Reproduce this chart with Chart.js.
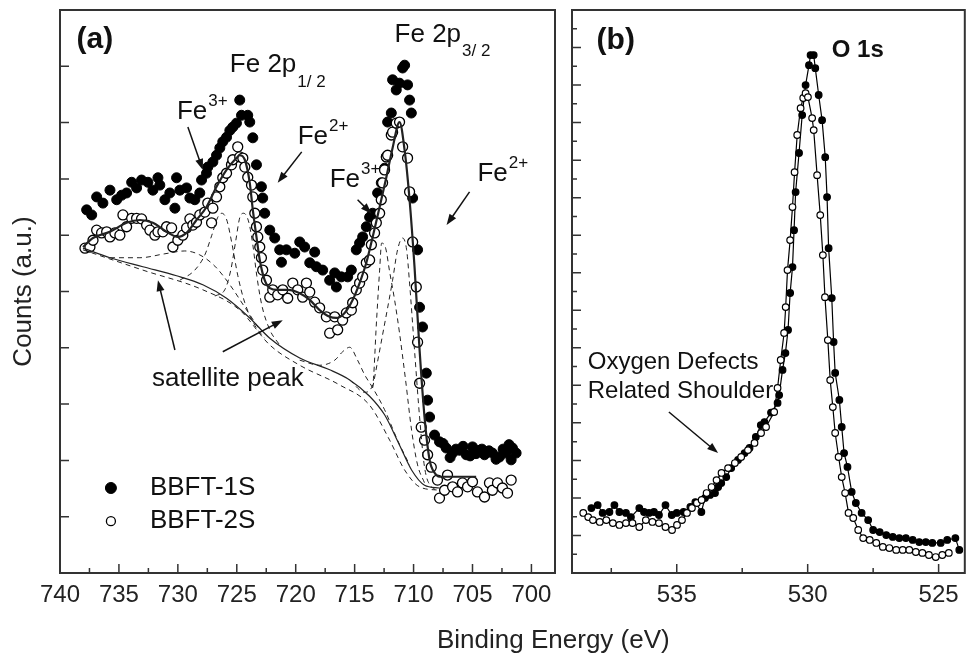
<!DOCTYPE html>
<html>
<head>
<meta charset="utf-8">
<title>XPS Fe 2p / O 1s</title>
<script src="https://cdn.jsdelivr.net/npm/chart.js@4.4.1/dist/chart.umd.min.js"></script>
<style>
  body { margin: 0; background: #fff; width: 970px; height: 655px; position: relative; overflow: hidden;
         font-family: "Liberation Sans", Arial, Helvetica, sans-serif; }
  #ca { position: absolute; left: 0; top: 0; }
  #cb { position: absolute; left: 563px; top: 0; }
  #xtitle { position: absolute; left: 437px; top: 626px; font-size: 26px; line-height: 26px; color: #222; white-space: nowrap; }
</style>
</head>
<body>
<canvas id="ca" width="563" height="655"></canvas>
<canvas id="cb" width="407" height="655"></canvas>
<div id="xtitle">Binding Energy (eV)</div>
<script>
const FONT = '"Liberation Sans", Arial, Helvetica, sans-serif';

// ---- panel (a): Fe 2p ----
// BBFT-1S (filled)
const fe1E = [737.74, 737.31, 736.89, 736.36, 735.76, 735.19, 734.77, 734.35, 733.92, 733.50,
  733.08, 732.54, 732.12, 731.69, 731.53, 731.10, 730.68, 730.25, 730.11, 729.83,
  729.26, 728.98, 728.56, 728.14, 727.99, 727.57, 727.46, 727.03, 726.72, 726.44,
  726.19, 725.87, 725.59, 725.34, 725.03, 724.60, 724.75, 724.07, 723.90, 723.64,
  723.33, 722.91, 722.80, 722.63, 722.20, 721.78, 721.36, 721.21, 720.79, 720.08,
  719.66, 719.24, 718.81, 718.39, 718.25, 717.71, 717.12, 716.69, 716.55, 716.13,
  715.59, 715.28, 714.86, 714.58, 714.32, 714.01, 713.73, 713.47, 713.05, 712.74,
  712.46, 712.31, 712.20, 711.89, 711.78, 711.47, 711.19, 710.93, 710.76, 710.51,
  710.34, 710.19, 710.08, 709.66, 709.49, 709.24, 708.92, 708.81, 708.64, 708.22,
  707.80, 707.50, 707.23, 706.90, 706.69, 706.40, 706.10, 705.80, 705.53, 705.20,
  705.00, 704.70, 704.41, 704.20, 703.98, 703.60, 703.31, 703.00, 702.71, 702.40,
  702.14, 701.90, 701.72, 701.61, 701.30];
const fe1I = [6.45, 6.36, 6.68, 6.57, 6.80, 6.63, 6.71, 6.75, 6.94, 6.84,
  6.98, 6.94, 6.80, 7.02, 6.89, 6.63, 6.75, 6.48, 7.02, 6.80,
  6.84, 6.66, 6.63, 6.75, 6.98, 7.10, 7.21, 7.30, 7.42, 7.55,
  7.66, 7.74, 7.86, 7.92, 7.99, 8.13, 8.40, 8.13, 8.01, 7.73,
  7.25, 6.86, 6.66, 6.39, 6.09, 5.95, 5.74, 5.52, 5.74, 5.68,
  5.88, 5.79, 5.51, 5.70, 5.44, 5.38, 5.20, 5.33, 5.08, 5.26,
  5.26, 5.38, 5.74, 5.86, 5.97, 6.15, 6.32, 6.39, 6.75, 6.93,
  7.19, 7.39, 8.01, 8.17, 8.76, 8.58, 8.70, 8.97, 9.02, 8.67,
  8.40, 8.17, 6.66, 5.74, 4.72, 4.37, 3.55, 3.07, 2.77, 2.45,
  2.33, 2.30, 2.22, 2.05, 2.13, 2.20, 2.18, 2.25, 2.10, 2.08,
  2.24, 2.12, 2.18, 2.20, 2.10, 2.17, 2.13, 2.02, 2.06, 2.20,
  2.13, 2.28, 2.01, 2.22, 2.13];
// BBFT-2S (open)
const fe2E = [737.88, 737.46, 737.20, 736.89, 736.47, 736.04, 735.76, 735.34, 734.92, 734.66,
  734.35, 733.92, 733.50, 733.08, 732.65, 732.37, 731.95, 731.69, 731.27, 730.96,
  730.53, 730.42, 730.00, 729.58, 729.26, 728.98, 728.73, 728.42, 728.14, 727.71,
  727.46, 727.14, 727.03, 726.72, 726.44, 726.19, 725.87, 725.45, 725.34, 724.92,
  724.75, 724.49, 724.32, 724.07, 723.75, 723.64, 723.47, 723.33, 723.22, 723.05,
  722.91, 722.80, 722.48, 722.20, 721.95, 721.53, 721.10, 720.68, 720.25, 719.83,
  719.41, 719.09, 718.81, 718.39, 717.97, 717.40, 717.12, 716.69, 716.44, 716.02,
  715.70, 715.28, 715.17, 714.86, 714.58, 714.32, 714.01, 713.73, 713.58, 713.31,
  713.16, 712.88, 712.74, 712.63, 712.46, 712.31, 712.20, 711.89, 711.78, 711.47,
  711.19, 710.93, 710.51, 710.34, 710.08, 709.77, 709.66, 709.49, 709.35, 709.07,
  708.81, 708.50, 707.97, 707.80, 707.37, 707.12, 706.69, 706.27, 705.85, 705.42,
  705.00, 704.58, 703.98, 703.56, 703.31, 702.88, 702.46, 702.03, 701.72];
const fe2I = [5.77, 5.79, 5.91, 6.09, 6.04, 6.06, 5.97, 6.04, 6.00, 6.36,
  6.15, 6.30, 6.30, 6.29, 6.18, 6.09, 6.00, 6.06, 6.06, 6.15,
  6.13, 5.79, 5.91, 6.00, 6.13, 6.29, 6.18, 6.23, 6.36, 6.41,
  6.57, 6.22, 6.48, 6.68, 6.86, 7.02, 7.10, 7.25, 7.34, 7.57,
  7.39, 7.37, 7.21, 7.03, 6.89, 6.68, 6.39, 6.15, 5.97, 5.79,
  5.60, 5.38, 5.20, 4.90, 5.03, 4.94, 5.03, 4.88, 5.15, 5.03,
  4.90, 5.15, 4.99, 4.81, 4.71, 4.55, 4.26, 4.55, 4.32, 4.49,
  4.62, 4.67, 4.80, 5.03, 5.15, 5.26, 5.51, 5.56, 5.83, 6.04,
  6.22, 6.39, 6.63, 6.93, 7.16, 7.39, 7.42, 7.78, 7.83, 7.99,
  8.01, 7.57, 7.37, 6.77, 5.88, 5.08, 4.10, 3.37, 2.59, 2.36,
  2.10, 1.88, 1.65, 1.33, 1.47, 1.74, 1.53, 1.44, 1.60, 1.53,
  1.62, 1.44, 1.35, 1.60, 1.47, 1.60, 1.51, 1.42, 1.65];
// fitted envelope
const fitE = [738.05, 737.20, 735.76, 734.35, 733.22, 732.12, 730.96, 730.00, 729.26, 728.42,
  727.57, 726.72, 725.87, 725.03, 724.75, 724.32, 723.90, 723.64, 723.33, 723.05,
  722.63, 722.20, 721.53, 720.68, 719.66, 718.81, 717.97, 717.12, 716.55, 715.85,
  715.17, 714.58, 714.01, 713.47, 712.88, 712.31, 711.78, 711.19, 710.76, 710.34,
  709.92, 709.49, 709.07, 708.64, 708.22, 707.80, 704.69];
const fitI = [5.79, 5.95, 6.06, 6.22, 6.27, 6.22, 6.06, 5.97, 6.04, 6.27,
  6.50, 6.86, 7.16, 7.37, 7.42, 7.34, 6.93, 6.45, 5.97, 5.56,
  5.20, 5.06, 5.03, 5.03, 4.97, 4.85, 4.67, 4.55, 4.53, 4.62,
  4.85, 5.15, 5.51, 5.97, 6.50, 7.03, 7.55, 8.01, 7.51, 6.63,
  5.44, 3.96, 2.77, 2.01, 1.78, 1.71, 1.71];
// Shirley background (solid) and a dashed copy
const bgE = [738.05, 735.76, 732.97, 730.11, 727.88, 725.87, 723.90, 722.20, 719.66, 717.12,
  715.42, 713.73, 712.46, 711.19, 710.17, 709.07, 707.80];
const bgI = [5.77, 5.60, 5.44, 5.28, 5.12, 4.88, 4.53, 4.17, 3.82, 3.61,
  3.43, 3.14, 2.81, 2.27, 1.83, 1.56, 1.51];
const bg2E = [738.05, 732.97, 727.88, 724.75, 722.20, 719.66, 716.27, 713.73, 712.03, 710.76, 709.49, 707.80];
const bg2I = [5.74, 5.38, 5.03, 4.67, 4.05, 3.69, 3.34, 2.98, 2.36, 1.83, 1.53, 1.47];
// fitted components (dashed)
const sat1E = [735.76, 733.22, 731.10, 729.41, 728.14, 726.86, 725.59, 724.32, 723.05];
const sat1I = [5.60, 5.60, 5.67, 5.72, 5.65, 5.45, 5.12, 4.72, 4.32];
const f3aE = [729.83, 728.56, 727.71, 727.12, 726.61, 726.27, 725.85, 725.42, 724.92, 724.32, 723.47, 722.63];
const f3aI = [5.20, 5.38, 5.65, 6.00, 6.32, 6.39, 6.27, 5.86, 5.29, 4.80, 4.40, 4.17];
const f2aE = [726.86, 726.02, 725.51, 725.08, 724.75, 724.41, 723.98, 723.64, 723.31, 722.88, 722.20, 721.36];
const f2aI = [4.92, 5.03, 5.38, 5.91, 6.31, 6.39, 6.23, 5.83, 5.29, 4.76, 4.32, 4.05];
const sat2E = [719.66, 717.97, 716.69, 716.02, 715.42, 714.75, 714.15, 713.47, 712.46, 711.36, 710.34];
const sat2I = [3.78, 3.69, 3.78, 3.93, 4.01, 3.78, 3.52, 3.29, 2.90, 2.36, 1.92];
const f3bE = [715.42, 714.15, 713.47, 713.14, 712.88, 712.71, 712.37, 712.03, 711.61, 711.19, 710.68, 710.17, 709.66, 709.07];
const f3bI = [3.43, 3.21, 3.34, 4.49, 5.38, 5.86, 5.77, 5.35, 4.85, 4.26, 3.43, 2.54, 1.92, 1.60];
const f2bE = [713.47, 712.63, 711.78, 711.36, 710.93, 710.59, 710.34, 709.92, 709.49, 709.07, 708.47, 707.80];
const f2bI = [3.29, 4.23, 5.20, 5.74, 5.95, 5.74, 5.15, 3.96, 2.77, 1.88, 1.53, 1.47];

const aTicks = [740, 735, 730, 725, 720, 715, 710, 705, 700];
const aMinor = [737.5, 732.5, 727.5, 722.5, 717.5, 712.5, 707.5, 702.5];
const aYTicks = [1, 2, 3, 4, 5, 6, 7, 8, 9];

// ---- panel (b): O 1s ----
const o1E = [538.26, 538.02, 537.83, 537.57, 537.38, 537.19, 536.94, 536.75, 536.43, 536.25,
  536.06, 535.87, 535.68, 535.43, 535.19, 535.00, 534.74, 534.48, 534.29, 534.06,
  533.92, 533.73, 533.54, 533.42, 533.30, 533.11, 532.92, 532.66, 532.41, 532.22,
  531.98, 531.79, 531.65, 531.40, 531.15, 531.09, 530.96, 530.85, 530.75, 530.67,
  530.58, 530.52, 530.46, 530.33, 530.21, 530.08, 529.95, 529.89, 529.77, 529.71,
  529.58, 529.45, 529.33, 529.26, 529.20, 529.08, 529.01, 528.95, 528.79, 528.70,
  528.61, 528.48, 528.32, 528.16, 527.94, 527.69, 527.50, 527.25, 527.00, 526.75,
  526.50, 526.25, 525.99, 525.74, 525.49, 525.24, 524.92, 524.67, 524.36, 524.21];
const o1I = [3.46, 3.62, 3.20, 3.25, 3.62, 3.25, 3.20, 2.98, 3.46, 3.25,
  3.20, 3.25, 3.09, 3.62, 3.09, 3.20, 3.25, 3.52, 3.78, 3.25,
  4.00, 4.16, 4.26, 4.58, 4.79, 5.11, 5.59, 6.02, 6.39, 6.66,
  7.25, 7.88, 8.04, 8.55, 9.06, 9.48, 10.82, 11.72, 12.95, 14.92,
  16.30, 18.27, 20.30, 22.38, 24.40, 26.00, 27.06, 27.60, 27.60, 26.90,
  25.47, 24.13, 22.16, 20.03, 17.31, 14.65, 12.31, 10.66, 9.22, 7.78,
  6.39, 5.65, 4.32, 3.73, 3.20, 2.82, 2.29, 2.18, 2.02, 1.92,
  1.86, 1.86, 1.76, 1.65, 1.65, 1.60, 1.60, 1.76, 1.86, 1.23];
const o2E = [538.57, 538.38, 538.20, 537.94, 537.69, 537.44, 537.19, 536.94, 536.69, 536.43,
  536.18, 535.93, 535.68, 535.43, 535.18, 534.99, 534.80, 534.61, 534.42, 534.23,
  534.05, 533.86, 533.67, 533.48, 533.29, 533.04, 532.78, 532.54, 532.28, 532.03,
  531.78, 531.59, 531.28, 531.15, 531.03, 530.90, 530.84, 530.77, 530.67, 530.58,
  530.50, 530.40, 530.27, 530.17, 530.08, 529.99, 529.83, 529.77, 529.64, 529.52,
  529.42, 529.34, 529.23, 529.14, 529.04, 528.95, 528.82, 528.70, 528.57, 528.44,
  528.26, 528.07, 527.88, 527.63, 527.38, 527.13, 526.88, 526.62, 526.37, 526.12,
  525.87, 525.62, 525.37, 525.11, 524.86, 524.61];
const o2I = [3.20, 2.98, 2.82, 2.72, 2.82, 2.66, 2.56, 2.66, 2.66, 2.45,
  2.82, 2.72, 2.66, 2.45, 2.29, 2.56, 2.82, 3.20, 3.46, 3.73,
  3.89, 4.26, 4.58, 4.95, 5.33, 5.59, 5.86, 6.18, 6.55, 6.93,
  7.46, 7.78, 8.58, 9.86, 11.35, 12.79, 14.17, 16.14, 17.74, 19.50,
  21.36, 23.34, 24.77, 25.31, 25.57, 25.36, 24.24, 23.60, 21.20, 19.07,
  16.94, 14.70, 12.41, 10.28, 8.84, 7.46, 6.18, 5.11, 4.26, 3.20,
  2.93, 2.29, 1.86, 1.76, 1.60, 1.39, 1.33, 1.23, 1.23, 1.23,
  1.12, 1.07, 0.96, 0.85, 0.96, 1.07];

const bTicks = [535, 530, 525];
const bMinor = [537.5, 532.5, 527.5];
const bYTicks = [1, 2, 3, 4, 5, 6, 7, 8, 9, 10, 11, 12, 13, 14, 15, 16, 17, 18, 19, 20,
  21, 22, 23, 24, 25, 26, 27, 28, 29];

function pts(xs, ys) {
  return xs.map((x, i) => ({x: x, y: ys[i]}));
}

// frame around the plot area plus inward tick marks
const frameTicks = {
  id: 'frameTicks',
  afterDatasetsDraw(chart, args, o) {
    const ctx = chart.ctx, a = chart.chartArea;
    const sx = chart.scales.x, sy = chart.scales.y;
    ctx.save();
    ctx.strokeStyle = '#333';
    ctx.lineWidth = 1.5;
    ctx.beginPath();
    o.xMajor.forEach(v => { const p = sx.getPixelForValue(v); ctx.moveTo(p, a.bottom); ctx.lineTo(p, a.bottom - 9); });
    o.xMinor.forEach(v => { const p = sx.getPixelForValue(v); ctx.moveTo(p, a.bottom); ctx.lineTo(p, a.bottom - 5); });
    o.yTicks.forEach(v => {
      const p = sy.getPixelForValue(v);
      const len = (o.yEven && v % 2) ? 5 : 9;
      ctx.moveTo(a.left, p); ctx.lineTo(a.left + len, p);
    });
    ctx.stroke();
    ctx.lineWidth = 2;
    ctx.strokeRect(a.left, a.top, a.right - a.left, a.bottom - a.top);
    ctx.restore();
  }
};

// text labels, arrows and the hand placed legend
const notes = {
  id: 'notes',
  afterDraw(chart, args, o) {
    const ctx = chart.ctx, sx = chart.scales.x, sy = chart.scales.y;
    ctx.save();
    ctx.fillStyle = '#111';
    ctx.strokeStyle = '#111';
    ctx.textBaseline = 'middle';
    ctx.textAlign = 'left';
    (o.labels || []).forEach(l => {
      const px = sx.getPixelForValue(l.x), py = sy.getPixelForValue(l.y);
      ctx.font = (l.bold ? 'bold ' : '') + l.size + 'px ' + FONT;
      ctx.fillText(l.text, px, py);
      if (l.sub || l.sup) {
        const w = ctx.measureText(l.text).width;
        ctx.font = '17px ' + FONT;
        ctx.fillText(l.sub || l.sup, px + w + 1, py + (l.sub ? 17 : -11));
      }
    });
    (o.arrows || []).forEach(ar => {
      const x0 = sx.getPixelForValue(ar[0]), y0 = sy.getPixelForValue(ar[1]);
      const x1 = sx.getPixelForValue(ar[2]), y1 = sy.getPixelForValue(ar[3]);
      const c = Math.cos(Math.atan2(y1 - y0, x1 - x0)), s = Math.sin(Math.atan2(y1 - y0, x1 - x0));
      ctx.lineWidth = 1.5;
      ctx.beginPath();
      ctx.moveTo(x0, y0);
      ctx.lineTo(x1 - 8 * c, y1 - 8 * s);
      ctx.stroke();
      ctx.beginPath();
      ctx.moveTo(x1, y1);
      ctx.lineTo(x1 - 11 * c + 4 * s, y1 - 11 * s - 4 * c);
      ctx.lineTo(x1 - 11 * c - 4 * s, y1 - 11 * s + 4 * c);
      ctx.closePath();
      ctx.fill();
    });
    (o.legend || []).forEach(l => {
      const ds = chart.data.datasets[l.ds];
      const px = sx.getPixelForValue(l.x), py = sy.getPixelForValue(l.y);
      ctx.beginPath();
      ctx.arc(px, py, l.r, 0, Math.PI * 2);
      ctx.fillStyle = ds.backgroundColor;
      ctx.fill();
      ctx.lineWidth = ds.borderWidth;
      ctx.strokeStyle = ds.borderColor;
      ctx.stroke();
      ctx.fillStyle = '#111';
      ctx.font = '26px ' + FONT;
      ctx.fillText(ds.label, sx.getPixelForValue(l.tx), py);
    });
    ctx.restore();
  }
};

const aLabels = [
  {x: 738.6, y: 9.47, text: '(a)', size: 30, bold: true},
  {x: 725.59, y: 9.02, text: 'Fe 2p', size: 26, sub: '1/ 2'},
  {x: 711.61, y: 9.56, text: 'Fe 2p', size: 26, sub: '3/ 2'},
  {x: 730.08, y: 8.19, text: 'Fe', size: 26, sup: '3+'},
  {x: 719.83, y: 7.74, text: 'Fe', size: 26, sup: '2+'},
  {x: 717.12, y: 6.98, text: 'Fe', size: 26, sup: '3+'},
  {x: 704.58, y: 7.09, text: 'Fe', size: 26, sup: '2+'},
  {x: 732.20, y: 3.45, text: 'satellite peak', size: 26}
];
const aArrows = [
  [729.15, 7.92, 727.88, 7.16],
  [719.49, 7.48, 721.53, 6.93],
  [714.75, 6.63, 713.56, 6.38],
  [705.25, 6.77, 707.20, 6.18],
  [730.25, 3.96, 731.69, 5.20],
  [726.19, 3.93, 721.10, 4.49]
];
const bLabels = [
  {x: 538.06, y: 28.34, text: '(b)', size: 30, bold: true},
  {x: 529.08, y: 27.86, text: 'O 1s', size: 24, bold: true},
  {x: 538.40, y: 11.24, text: 'Oxygen Defects', size: 24},
  {x: 538.40, y: 9.70, text: 'Related Shoulder', size: 24}
];
const bArrows = [[535.30, 8.58, 533.42, 6.39]];

function lineSet(label, xs, ys, width, dash, order) {
  return {label: label, data: pts(xs, ys), showLine: true, pointRadius: 0, borderColor: '#222',
    borderWidth: width, borderDash: dash, cubicInterpolationMode: 'monotone', fill: false, order: order};
}

function xScale(min, max, ticks) {
  return {
    type: 'linear', reverse: true, min: min, max: max,
    afterBuildTicks: s => { s.ticks = ticks.map(v => ({value: v})); },
    afterFit: s => { s.height = 82; },
    ticks: {font: {family: FONT, size: 24}, color: '#222', padding: 8, maxRotation: 0, autoSkip: false},
    grid: {display: false, drawTicks: false},
    border: {display: false}
  };
}

new Chart(document.getElementById('ca'), {
  type: 'scatter',
  data: {
    datasets: [
      {label: 'BBFT-1S', data: pts(fe1E, fe1I), pointRadius: 5, backgroundColor: '#000',
        borderColor: '#000', borderWidth: 1, order: 5},
      {label: 'BBFT-2S', data: pts(fe2E, fe2I), pointRadius: 5, backgroundColor: '#fff',
        borderColor: '#000', borderWidth: 1.3, order: 4},
      lineSet('background', bgE, bgI, 1.2, [], 3),
      lineSet('background 2', bg2E, bg2I, 1, [5, 4], 3),
      lineSet('satellite 2p1/2', sat1E, sat1I, 1, [5, 4], 3),
      lineSet('Fe3+ 2p1/2', f3aE, f3aI, 1, [5, 4], 3),
      lineSet('Fe2+ 2p1/2', f2aE, f2aI, 1, [5, 4], 3),
      lineSet('satellite 2p3/2', sat2E, sat2I, 1, [5, 4], 3),
      lineSet('Fe3+ 2p3/2', f3bE, f3bI, 1, [5, 4], 3),
      lineSet('Fe2+ 2p3/2', f2bE, f2bI, 1, [5, 4], 3),
      lineSet('fit', fitE, fitI, 2.2, [], 1)
    ]
  },
  options: {
    responsive: false, animation: false, events: [],
    layout: {padding: {left: 0, right: 8, top: 10, bottom: 0}},
    plugins: {
      legend: {display: false}, tooltip: {enabled: false},
      frameTicks: {xMajor: aTicks, xMinor: aMinor, yTicks: aYTicks, yEven: false},
      notes: {labels: aLabels, arrows: aArrows,
        legend: [{ds: 0, r: 5.5, x: 735.68, tx: 732.37, y: 1.51}, {ds: 1, r: 4.5, x: 735.68, tx: 732.37, y: 0.92}]}
    },
    scales: {
      x: xScale(698, 740, aTicks),
      y: {
        min: 0, max: 10,
        afterFit: s => { s.width = 60; },
        ticks: {display: false},
        grid: {display: false, drawTicks: false},
        border: {display: false},
        title: {display: true, text: 'Counts (a.u.)', font: {family: FONT, size: 26}, color: '#222',
          padding: {top: 8, bottom: 0}}
      }
    }
  },
  plugins: [frameTicks, notes]
});

new Chart(document.getElementById('cb'), {
  type: 'scatter',
  data: {
    datasets: [
      {label: 'BBFT-1S', data: pts(o1E, o1I), showLine: true, pointRadius: 3.3, backgroundColor: '#000',
        borderColor: '#000', borderWidth: 1.2, order: 2},
      {label: 'BBFT-2S', data: pts(o2E, o2I), showLine: true, pointRadius: 3.3, backgroundColor: '#fff',
        borderColor: '#000', borderWidth: 1.2, order: 1}
    ]
  },
  options: {
    responsive: false, animation: false, events: [],
    layout: {padding: {left: 9, right: 2, top: 10, bottom: 0}},
    plugins: {
      legend: {display: false}, tooltip: {enabled: false},
      frameTicks: {xMajor: bTicks, xMinor: bMinor, yTicks: bYTicks, yEven: true},
      notes: {labels: bLabels, arrows: bArrows}
    },
    scales: {
      x: xScale(524, 539, bTicks),
      y: {min: 0, max: 30, display: false}
    }
  },
  plugins: [frameTicks, notes]
});
</script>
</body>
</html>
